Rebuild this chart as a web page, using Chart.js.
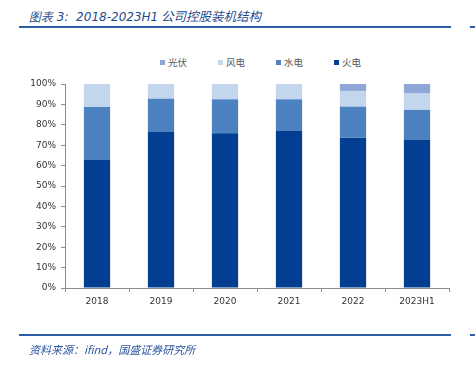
<!DOCTYPE html>
<html><head><meta charset="utf-8">
<script src="https://cdn.jsdelivr.net/npm/chart.js@4/dist/chart.umd.min.js"></script>
<style>
html,body{margin:0;padding:0;background:#fff;}
#wrap{position:relative;width:475px;height:368px;overflow:hidden;font-family:"Noto Sans CJK SC",sans-serif;}
#c{position:absolute;left:0;top:0;}
.title{position:absolute;left:29px;top:6px;font-size:12.5px;font-style:italic;color:#1F4A8E;white-space:nowrap;}
.title b{font-family:"DejaVu Sans",sans-serif;font-weight:normal;font-size:12px;}
.line{position:absolute;height:2px;background:#2C5FA5;}
.src{position:absolute;left:29px;top:341px;font-size:11px;font-style:italic;color:#2A55A0;white-space:nowrap;}
#legend{position:absolute;top:55px;left:160px;display:flex;font-size:9.5px;color:#595959;}
#legend span.item{display:flex;align-items:center;margin-right:31px;}
#legend span.box{display:inline-block;width:5px;height:5px;margin-right:3px;}
</style></head>
<body><div id="wrap">
<div class="title"><b>图表 3:&nbsp; 2018-2023H1</b> 公司控股装机结构</div>
<div class="line" style="left:19px;top:26px;width:432px;"></div>
<div class="line" style="left:470px;top:26px;width:5px;"></div>
<div id="legend"></div>
<canvas id="c" width="475" height="368"></canvas>
<div class="line" style="left:19px;top:334px;width:432px;"></div>
<div class="line" style="left:470px;top:334px;width:5px;"></div>
<div class="src">资料来源：ifind，国盛证券研究所</div>
</div>
<script>
const categories = ['2018','2019','2020','2021','2022','2023H1'];
const thermal = [62.7, 76.7, 75.8, 77.2, 73.7, 72.5];
const hydro   = [26.0, 16.1, 16.7, 15.3, 15.2, 14.8];
const wind    = [11.3, 7.2, 7.5, 7.5, 7.7, 8.0];
const solar   = [0, 0, 0, 0, 3.4, 4.7];
const seriesNames = ['火电','水电','风电','光伏'];
const colors = ['#023F93','#4C81C2','#C3D6EE','#8EA7D6'];
const values = [thermal, hydro, wind, solar];

// HTML legend (reverse order)
const lg = document.getElementById('legend');
for (let i = seriesNames.length - 1; i >= 0; i--) {
  const it = document.createElement('span'); it.className = 'item';
  const b = document.createElement('span'); b.className = 'box'; b.style.background = colors[i];
  it.appendChild(b); it.appendChild(document.createTextNode(seriesNames[i]));
  lg.appendChild(it);
}

new Chart(document.getElementById('c'), {
  type: 'bar',
  data: {
    labels: categories,
    datasets: values.map((v, i) => ({
      label: seriesNames[i], data: v, backgroundColor: colors[i],
      borderWidth: 0, categoryPercentage: 1, barPercentage: 0.41
    }))
  },
  options: {
    responsive: false, animation: false,
    layout: { padding: { left: 0, right: 26, top: 84, bottom: 60 } },
    plugins: { legend: { display: false }, tooltip: { enabled: false } },
    scales: {
      x: {
        stacked: true,
        grid: { display: true, drawOnChartArea: false, drawTicks: true, tickLength: 4, color: '#8C8C8C', offset: true },
        border: { display: true, color: '#8C8C8C' },
        ticks: { color: '#333', font: { family: 'DejaVu Sans', size: 9 }, padding: 4 },
        afterFit: s => { s.height = 20; }
      },
      y: {
        stacked: true, min: 0, max: 100,
        grid: { display: true, drawOnChartArea: false, drawTicks: true, tickLength: 4, color: '#8C8C8C' },
        border: { display: true, color: '#8C8C8C' },
        ticks: { stepSize: 10, color: '#333', font: { family: 'DejaVu Sans', size: 9 }, padding: 5,
                 callback: v => v + '%' },
        afterFit: s => { s.width = 65; }
      }
    }
  }
});
</script>
</body></html>
